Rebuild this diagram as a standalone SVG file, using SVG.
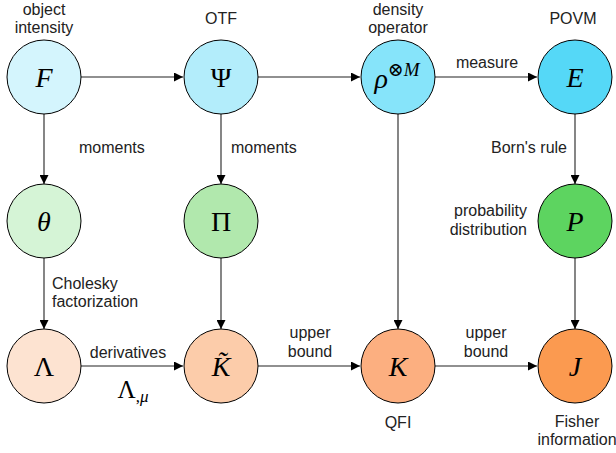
<svg xmlns="http://www.w3.org/2000/svg" width="616" height="453" viewBox="0 0 616 453">
<defs>
<marker id="ah" viewBox="0 0 10 10" refX="10" refY="5" markerWidth="9" markerHeight="9" markerUnits="userSpaceOnUse" orient="auto">
<path d="M0,0 L10,5 L0,10 z" fill="#000"/>
</marker>
</defs>
<style>
.n{stroke:#000;stroke-width:1}
.m{font-family:"Liberation Serif","DejaVu Serif",serif;font-size:28px;font-style:italic;text-anchor:middle}
.u{font-style:normal}
.t{font-family:"Liberation Sans",Arial,sans-serif;font-size:16px;fill:#222}
.c{text-anchor:middle}
.r{text-anchor:end}
.e{stroke:#222;stroke-width:1.1;fill:none;marker-end:url(#ah)}
</style>
<rect width="616" height="453" fill="#fff"/>
<g id="edges">
<line class="e" x1="81" y1="77" x2="183" y2="77"/>
<line class="e" x1="258" y1="77" x2="360" y2="77"/>
<line class="e" x1="435" y1="77" x2="537" y2="77"/>
<line class="e" x1="44" y1="114" x2="44" y2="184"/>
<line class="e" x1="221" y1="114" x2="221" y2="184"/>
<line class="e" x1="575" y1="114" x2="575" y2="184"/>
<line class="e" x1="44" y1="258" x2="44" y2="329"/>
<line class="e" x1="221" y1="258" x2="221" y2="329"/>
<line class="e" x1="575" y1="258" x2="575" y2="329"/>
<line class="e" x1="398" y1="114" x2="398" y2="329"/>
<line class="e" x1="81" y1="366" x2="183" y2="366"/>
<line class="e" x1="258" y1="366" x2="360" y2="366"/>
<line class="e" x1="435" y1="366" x2="537" y2="366"/>
</g>
<g id="edge-labels">
<text class="t" x="79" y="153">moments</text>
<text class="t" x="231" y="153">moments</text>
<text class="t r" x="567" y="153">Born's rule</text>
<text class="t" x="52" y="289">Cholesky</text>
<text class="t" x="52" y="307">factorization</text>
<text class="t c" x="128" y="358">derivatives</text>
<text class="m u" x="133" y="398" style="font-size:25px">Λ<tspan font-size="17" dy="4" font-style="normal">,</tspan><tspan font-size="17" font-style="italic">μ</tspan></text>
<text class="t c" x="310" y="338">upper</text>
<text class="t c" x="310" y="357">bound</text>
<text class="t c" x="486" y="338">upper</text>
<text class="t c" x="486" y="357">bound</text>
<text class="t c" x="487" y="68">measure</text>
</g>
<g id="F">
<circle class="n" cx="44" cy="77" r="37" fill="#d4f5fd"/>
<text class="m" x="44" y="87">F</text>
<text class="t c" x="44" y="15">object</text>
<text class="t c" x="44" y="33">intensity</text>
</g>
<g id="Psi">
<circle class="n" cx="221" cy="77" r="37" fill="#b3edfb"/>
<text class="m u" x="221" y="87">Ψ</text>
<text class="t c" x="221" y="24">OTF</text>
</g>
<g id="rho">
<circle class="n" cx="398" cy="77" r="37" fill="#86e4fa"/>
<text class="m" x="397" y="88"><tspan>ρ</tspan><tspan font-size="19" dy="-12" font-style="normal">⊗</tspan><tspan font-size="19">M</tspan></text>
<text class="t c" x="398" y="15">density</text>
<text class="t c" x="398" y="33">operator</text>
</g>
<g id="E">
<circle class="n" cx="575" cy="77" r="37" fill="#55d8f7"/>
<text class="m" x="575" y="87">E</text>
<text class="t c" x="573" y="24">POVM</text>
</g>
<g id="theta">
<circle class="n" cx="44" cy="221" r="37" fill="#d5f4d6"/>
<text class="m" x="44" y="231">θ</text>
</g>
<g id="Pi">
<circle class="n" cx="221" cy="221" r="37" fill="#b1e8ad"/>
<text class="m u" x="221" y="231">Π</text>
</g>
<g id="P">
<circle class="n" cx="575" cy="221" r="37" fill="#5dd460"/>
<text class="m" x="575" y="231">P</text>
<text class="t r" x="527" y="216">probability</text>
<text class="t r" x="527" y="235">distribution</text>
</g>
<g id="Lambda">
<circle class="n" cx="44" cy="366" r="37" fill="#fde3d1"/>
<text class="m u" x="44" y="376">Λ</text>
</g>
<g id="Ktilde">
<circle class="n" cx="221" cy="366" r="37" fill="#fcccaa"/>
<text class="m" x="221" y="376">K&#x303;</text>
</g>
<g id="K">
<circle class="n" cx="398" cy="366" r="37" fill="#fcaf80"/>
<text class="m" x="398" y="376">K</text>
<text class="t c" x="398" y="428">QFI</text>
</g>
<g id="J">
<circle class="n" cx="575" cy="366" r="37" fill="#fb9a50"/>
<text class="m" x="575" y="376">J</text>
<text class="t c" x="577" y="427">Fisher</text>
<text class="t c" x="577" y="445">information</text>
</g>
</svg>
